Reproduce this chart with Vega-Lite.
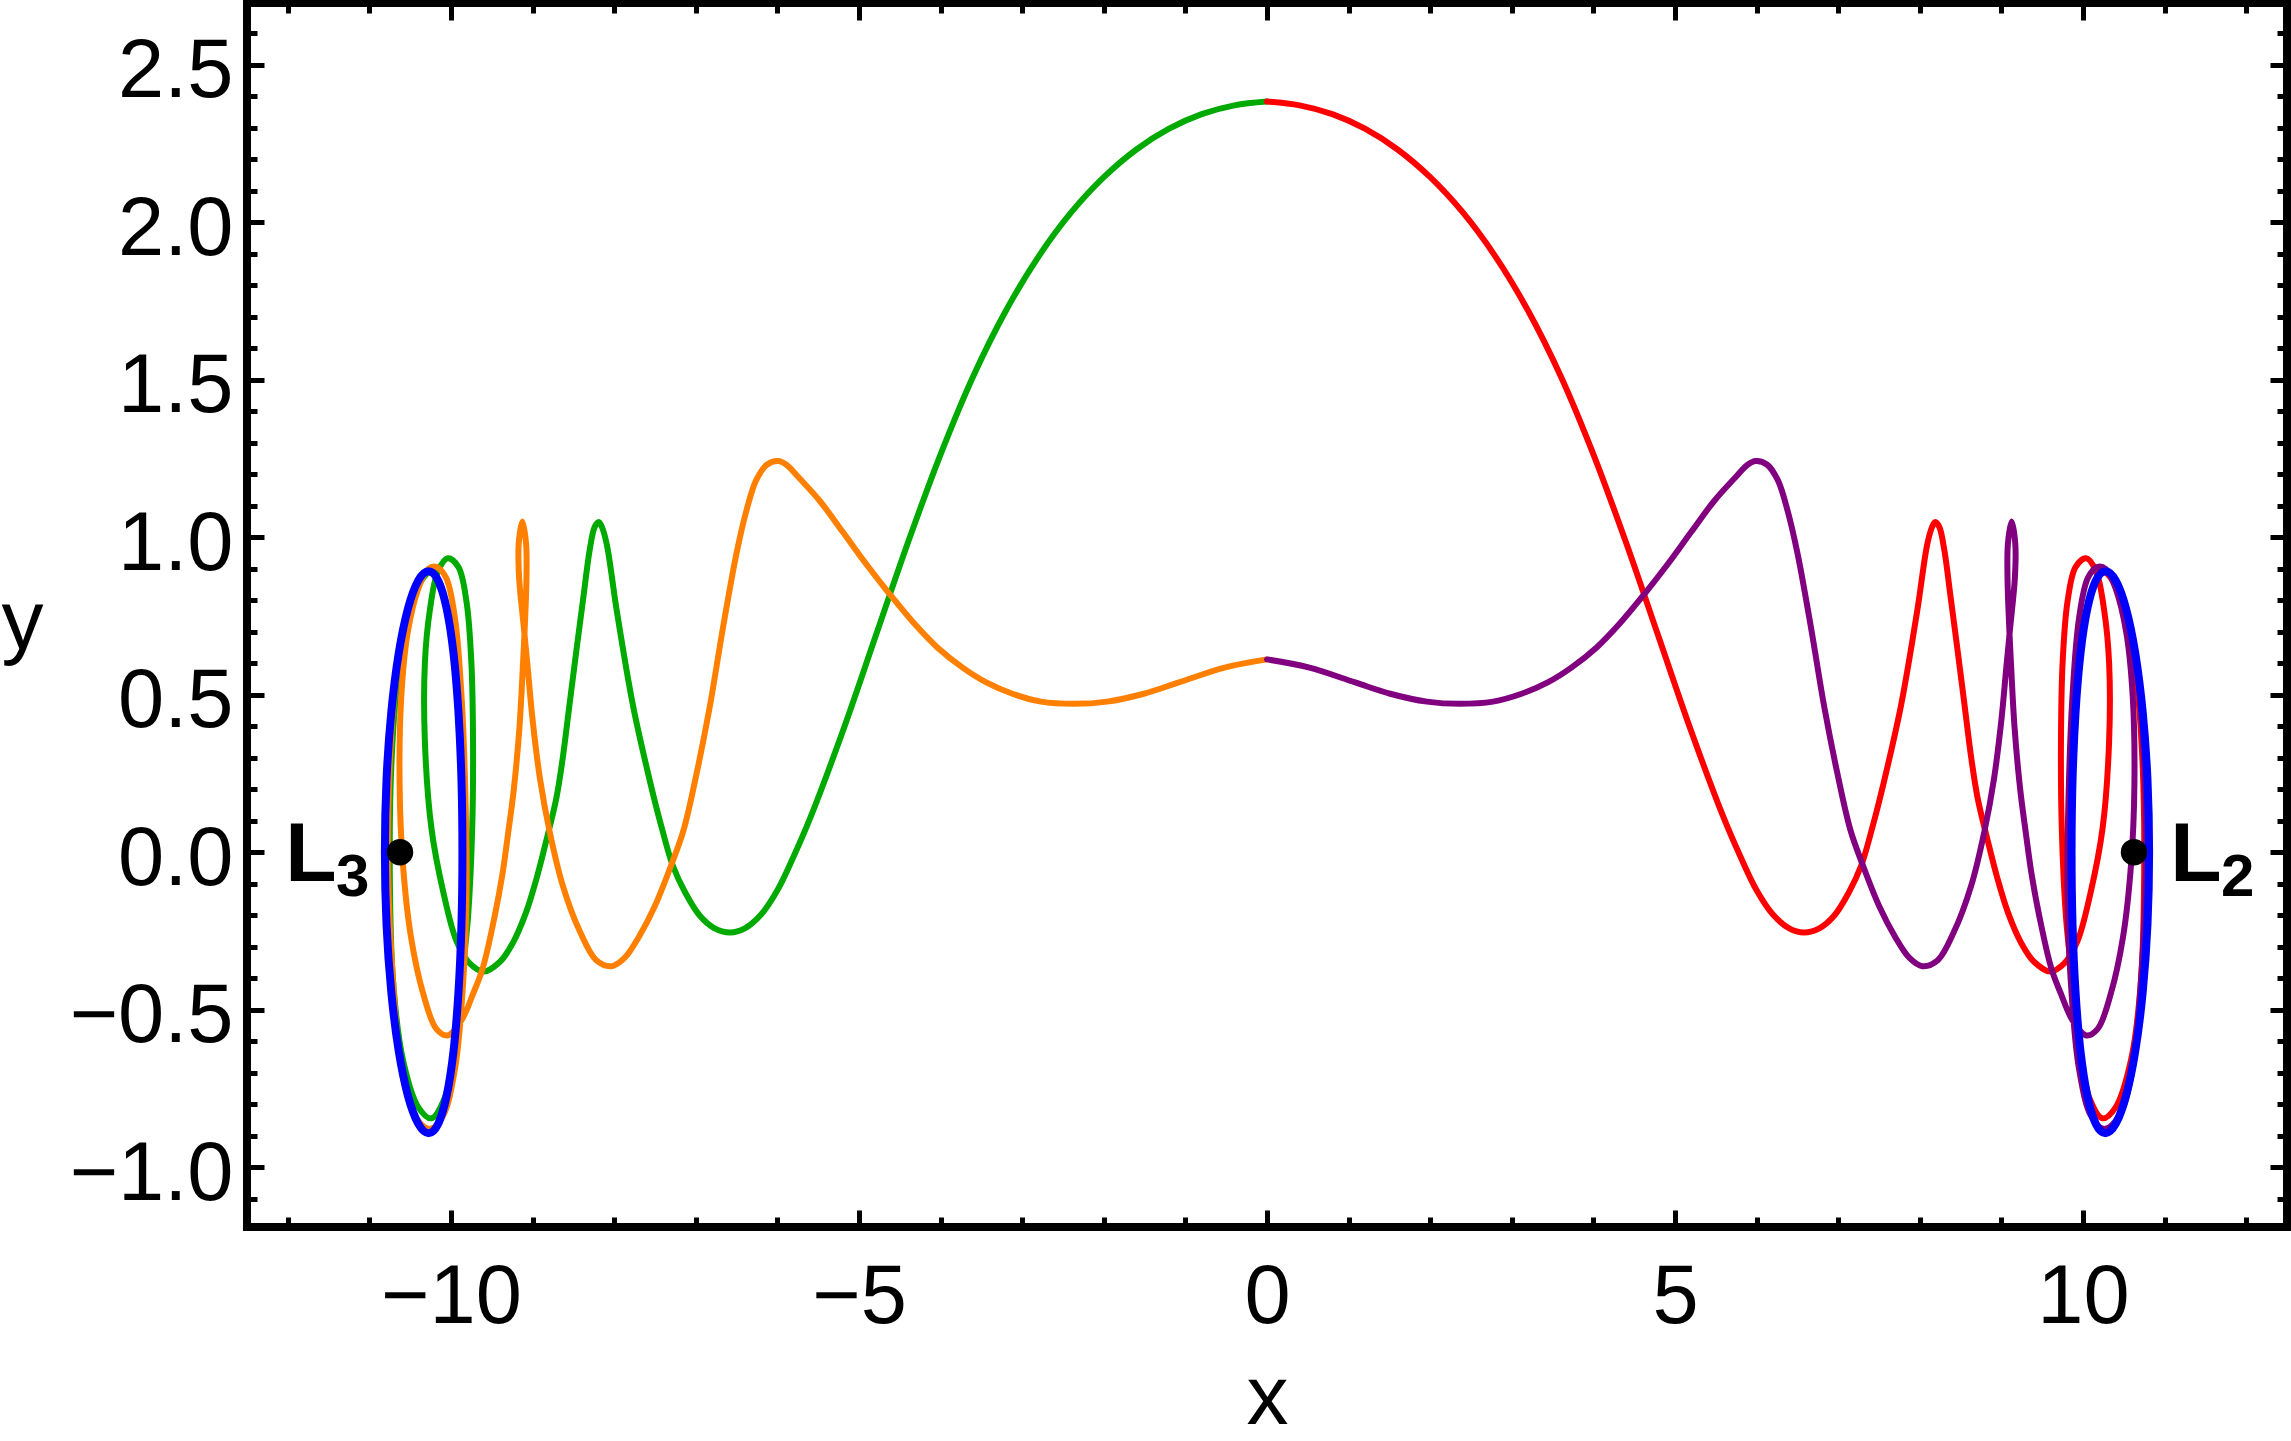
{
  "$schema": "https://vega.github.io/schema/vega-lite/v6.json",
  "autosize": {"type": "none"},
  "padding": {"left": 247, "top": 3, "right": 4, "bottom": 214},
  "width": 2040,
  "height": 1224,
  "background": "white",
  "datasets": {
    "curves": [
      {"c":"green","x":0,"y":2.383},{"c":"green","x":-0.4,"y":2.371},{"c":"green","x":-0.8,"y":2.343},{"c":"green","x":-1.2,"y":2.297},{"c":"green","x":-1.6,"y":2.231},{"c":"green","x":-2.0,"y":2.143},{"c":"green","x":-2.4,"y":2.031},{"c":"green","x":-2.8,"y":1.891},{"c":"green","x":-3.2,"y":1.719},{"c":"green","x":-3.6,"y":1.511},{"c":"green","x":-4.0,"y":1.263},{"c":"green","x":-4.4,"y":0.983},{"c":"green","x":-4.8,"y":0.683},{"c":"green","x":-5.2,"y":0.383},{"c":"green","x":-5.6,"y":0.107},{"c":"green","x":-5.8,"y":-0.013},{"c":"green","x":-6.0,"y":-0.121},{"c":"green","x":-6.2,"y":-0.198},{"c":"green","x":-6.4,"y":-0.242},{"c":"green","x":-6.58,"y":-0.255},{"c":"green","x":-6.78,"y":-0.24},{"c":"green","x":-6.95,"y":-0.202},{"c":"green","x":-7.13,"y":-0.128},{"c":"green","x":-7.28,"y":-0.044},{"c":"green","x":-7.42,"y":0.08},{"c":"green","x":-7.56,"y":0.223},{"c":"green","x":-7.77,"y":0.466},{"c":"green","x":-7.97,"y":0.769},{"c":"green","x":-8.09,"y":0.976},{"c":"green","x":-8.15,"y":1.032},{"c":"green","x":-8.19,"y":1.048},{"c":"green","x":-8.24,"y":1.032},{"c":"green","x":-8.3,"y":0.96},{"c":"green","x":-8.38,"y":0.805},{"c":"green","x":-8.46,"y":0.647},{"c":"green","x":-8.55,"y":0.464},{"c":"green","x":-8.63,"y":0.3},{"c":"green","x":-8.71,"y":0.17},{"c":"green","x":-8.83,"y":0.039},{"c":"green","x":-8.95,"y":-0.082},{"c":"green","x":-9.08,"y":-0.191},{"c":"green","x":-9.24,"y":-0.287},{"c":"green","x":-9.4,"y":-0.348},{"c":"green","x":-9.6,"y":-0.379},{"c":"green","x":-9.77,"y":-0.353},{"c":"green","x":-9.93,"y":-0.284},{"c":"green","x":-10.09,"y":-0.132},{"c":"green","x":-10.24,"y":0.076},{"c":"green","x":-10.32,"y":0.352},{"c":"green","x":-10.32,"y":0.601},{"c":"green","x":-10.26,"y":0.767},{"c":"green","x":-10.16,"y":0.892},{"c":"green","x":-10.04,"y":0.933},{"c":"green","x":-9.91,"y":0.906},{"c":"green","x":-9.81,"y":0.795},{"c":"green","x":-9.75,"y":0.601},{"c":"green","x":-9.73,"y":0.352},{"c":"green","x":-9.74,"y":0.076},{"c":"green","x":-9.79,"y":-0.201},{"c":"green","x":-9.87,"y":-0.409},{"c":"green","x":-9.95,"y":-0.616},{"c":"green","x":-10.08,"y":-0.782},{"c":"green","x":-10.24,"y":-0.845},{"c":"green","x":-10.4,"y":-0.81},{"c":"green","x":-10.59,"y":-0.658},{"c":"green","x":-10.71,"y":-0.409},{"c":"green","x":-10.75,"y":-0.063},{"c":"green","x":-10.73,"y":0.283},{"c":"green","x":-10.65,"y":0.56},{"c":"green","x":-10.51,"y":0.767},{"c":"green","x":-10.34,"y":0.871},{"c":"green","x":-10.22,"y":0.899},

      {"c":"red","x":0,"y":2.383},{"c":"red","x":0.4,"y":2.371},{"c":"red","x":0.8,"y":2.343},{"c":"red","x":1.2,"y":2.297},{"c":"red","x":1.6,"y":2.231},{"c":"red","x":2.0,"y":2.143},{"c":"red","x":2.4,"y":2.031},{"c":"red","x":2.8,"y":1.891},{"c":"red","x":3.2,"y":1.719},{"c":"red","x":3.6,"y":1.511},{"c":"red","x":4.0,"y":1.263},{"c":"red","x":4.4,"y":0.983},{"c":"red","x":4.8,"y":0.683},{"c":"red","x":5.2,"y":0.383},{"c":"red","x":5.6,"y":0.107},{"c":"red","x":5.8,"y":-0.013},{"c":"red","x":6.0,"y":-0.121},{"c":"red","x":6.2,"y":-0.198},{"c":"red","x":6.4,"y":-0.242},{"c":"red","x":6.58,"y":-0.255},{"c":"red","x":6.78,"y":-0.24},{"c":"red","x":6.95,"y":-0.202},{"c":"red","x":7.13,"y":-0.128},{"c":"red","x":7.28,"y":-0.044},{"c":"red","x":7.42,"y":0.08},{"c":"red","x":7.56,"y":0.223},{"c":"red","x":7.77,"y":0.466},{"c":"red","x":7.97,"y":0.769},{"c":"red","x":8.09,"y":0.976},{"c":"red","x":8.15,"y":1.032},{"c":"red","x":8.19,"y":1.048},{"c":"red","x":8.24,"y":1.032},{"c":"red","x":8.3,"y":0.96},{"c":"red","x":8.38,"y":0.805},{"c":"red","x":8.46,"y":0.647},{"c":"red","x":8.55,"y":0.464},{"c":"red","x":8.63,"y":0.3},{"c":"red","x":8.71,"y":0.17},{"c":"red","x":8.83,"y":0.039},{"c":"red","x":8.95,"y":-0.082},{"c":"red","x":9.08,"y":-0.191},{"c":"red","x":9.24,"y":-0.287},{"c":"red","x":9.4,"y":-0.348},{"c":"red","x":9.6,"y":-0.379},{"c":"red","x":9.77,"y":-0.353},{"c":"red","x":9.93,"y":-0.284},{"c":"red","x":10.09,"y":-0.132},{"c":"red","x":10.24,"y":0.076},{"c":"red","x":10.32,"y":0.352},{"c":"red","x":10.32,"y":0.601},{"c":"red","x":10.26,"y":0.767},{"c":"red","x":10.16,"y":0.892},{"c":"red","x":10.04,"y":0.933},{"c":"red","x":9.91,"y":0.906},{"c":"red","x":9.81,"y":0.795},{"c":"red","x":9.75,"y":0.601},{"c":"red","x":9.73,"y":0.352},{"c":"red","x":9.74,"y":0.076},{"c":"red","x":9.79,"y":-0.201},{"c":"red","x":9.87,"y":-0.409},{"c":"red","x":9.95,"y":-0.616},{"c":"red","x":10.08,"y":-0.782},{"c":"red","x":10.24,"y":-0.845},{"c":"red","x":10.4,"y":-0.81},{"c":"red","x":10.59,"y":-0.658},{"c":"red","x":10.71,"y":-0.409},{"c":"red","x":10.75,"y":-0.063},{"c":"red","x":10.73,"y":0.283},{"c":"red","x":10.65,"y":0.56},{"c":"red","x":10.51,"y":0.767},{"c":"red","x":10.34,"y":0.871},{"c":"red","x":10.22,"y":0.899},

      {"c":"orange","x":0,"y":0.612},{"c":"orange","x":-0.52,"y":0.586},{"c":"orange","x":-1.08,"y":0.539},{"c":"orange","x":-1.51,"y":0.503},{"c":"orange","x":-1.96,"y":0.478},{"c":"orange","x":-2.36,"y":0.471},{"c":"orange","x":-2.77,"y":0.478},{"c":"orange","x":-3.12,"y":0.503},{"c":"orange","x":-3.44,"y":0.539},{"c":"orange","x":-3.73,"y":0.586},{"c":"orange","x":-4.04,"y":0.65},{"c":"orange","x":-4.32,"y":0.725},{"c":"orange","x":-4.62,"y":0.818},{"c":"orange","x":-4.91,"y":0.914},{"c":"orange","x":-5.2,"y":1.017},{"c":"orange","x":-5.48,"y":1.115},{"c":"orange","x":-5.73,"y":1.187},{"c":"orange","x":-5.89,"y":1.23},{"c":"orange","x":-5.99,"y":1.242},{"c":"orange","x":-6.13,"y":1.23},{"c":"orange","x":-6.26,"y":1.181},{"c":"orange","x":-6.38,"y":1.084},{"c":"orange","x":-6.5,"y":0.95},{"c":"orange","x":-6.67,"y":0.708},{"c":"orange","x":-6.83,"y":0.46},{"c":"orange","x":-6.99,"y":0.25},{"c":"orange","x":-7.15,"y":0.07},{"c":"orange","x":-7.3,"y":-0.04},{"c":"orange","x":-7.5,"y":-0.17},{"c":"orange","x":-7.7,"y":-0.27},{"c":"orange","x":-7.87,"y":-0.335},{"c":"orange","x":-8.03,"y":-0.362},{"c":"orange","x":-8.22,"y":-0.343},{"c":"orange","x":-8.42,"y":-0.252},{"c":"orange","x":-8.63,"y":-0.106},{"c":"orange","x":-8.79,"y":0.064},{"c":"orange","x":-8.91,"y":0.234},{"c":"orange","x":-9.0,"y":0.42},{"c":"orange","x":-9.06,"y":0.586},{"c":"orange","x":-9.11,"y":0.72},{"c":"orange","x":-9.165,"y":0.87},{"c":"orange","x":-9.17,"y":0.98},{"c":"orange","x":-9.125,"y":1.05},{"c":"orange","x":-9.08,"y":0.98},{"c":"orange","x":-9.075,"y":0.87},{"c":"orange","x":-9.095,"y":0.72},{"c":"orange","x":-9.12,"y":0.586},{"c":"orange","x":-9.16,"y":0.4},{"c":"orange","x":-9.23,"y":0.2},{"c":"orange","x":-9.3,"y":0.06},{"c":"orange","x":-9.37,"y":-0.07},{"c":"orange","x":-9.47,"y":-0.21},{"c":"orange","x":-9.61,"y":-0.367},{"c":"orange","x":-9.73,"y":-0.45},{"c":"orange","x":-9.87,"y":-0.533},{"c":"orange","x":-10.04,"y":-0.582},{"c":"orange","x":-10.18,"y":-0.561},{"c":"orange","x":-10.34,"y":-0.45},{"c":"orange","x":-10.49,"y":-0.27},{"c":"orange","x":-10.59,"y":-0.035},{"c":"orange","x":-10.63,"y":0.215},{"c":"orange","x":-10.61,"y":0.491},{"c":"orange","x":-10.53,"y":0.698},{"c":"orange","x":-10.4,"y":0.837},{"c":"orange","x":-10.28,"y":0.899},{"c":"orange","x":-10.18,"y":0.906},{"c":"orange","x":-10.06,"y":0.871},{"c":"orange","x":-9.95,"y":0.74},{"c":"orange","x":-9.87,"y":0.491},{"c":"orange","x":-9.82,"y":0.145},{"c":"orange","x":-9.81,"y":-0.132},{"c":"orange","x":-9.85,"y":-0.409},{"c":"orange","x":-9.95,"y":-0.686},{"c":"orange","x":-10.1,"y":-0.838},{"c":"orange","x":-10.26,"y":-0.879},{"c":"orange","x":-10.44,"y":-0.838},{"c":"orange","x":-10.61,"y":-0.686},{"c":"orange","x":-10.71,"y":-0.409},{"c":"orange","x":-10.77,"y":-0.063},{"c":"orange","x":-10.75,"y":0.283},{"c":"orange","x":-10.67,"y":0.56},{"c":"orange","x":-10.55,"y":0.754},

      {"c":"purple","x":0,"y":0.612},{"c":"purple","x":0.52,"y":0.586},{"c":"purple","x":1.08,"y":0.539},{"c":"purple","x":1.51,"y":0.503},{"c":"purple","x":1.96,"y":0.478},{"c":"purple","x":2.36,"y":0.471},{"c":"purple","x":2.77,"y":0.478},{"c":"purple","x":3.12,"y":0.503},{"c":"purple","x":3.44,"y":0.539},{"c":"purple","x":3.73,"y":0.586},{"c":"purple","x":4.04,"y":0.65},{"c":"purple","x":4.32,"y":0.725},{"c":"purple","x":4.62,"y":0.818},{"c":"purple","x":4.91,"y":0.914},{"c":"purple","x":5.2,"y":1.017},{"c":"purple","x":5.48,"y":1.115},{"c":"purple","x":5.73,"y":1.187},{"c":"purple","x":5.89,"y":1.23},{"c":"purple","x":5.99,"y":1.242},{"c":"purple","x":6.13,"y":1.23},{"c":"purple","x":6.26,"y":1.181},{"c":"purple","x":6.38,"y":1.084},{"c":"purple","x":6.5,"y":0.95},{"c":"purple","x":6.67,"y":0.708},{"c":"purple","x":6.83,"y":0.46},{"c":"purple","x":6.99,"y":0.25},{"c":"purple","x":7.15,"y":0.07},{"c":"purple","x":7.3,"y":-0.04},{"c":"purple","x":7.5,"y":-0.17},{"c":"purple","x":7.7,"y":-0.27},{"c":"purple","x":7.87,"y":-0.335},{"c":"purple","x":8.03,"y":-0.362},{"c":"purple","x":8.22,"y":-0.343},{"c":"purple","x":8.42,"y":-0.252},{"c":"purple","x":8.63,"y":-0.106},{"c":"purple","x":8.79,"y":0.064},{"c":"purple","x":8.91,"y":0.234},{"c":"purple","x":9.0,"y":0.42},{"c":"purple","x":9.06,"y":0.586},{"c":"purple","x":9.11,"y":0.72},{"c":"purple","x":9.165,"y":0.87},{"c":"purple","x":9.17,"y":0.98},{"c":"purple","x":9.125,"y":1.05},{"c":"purple","x":9.08,"y":0.98},{"c":"purple","x":9.075,"y":0.87},{"c":"purple","x":9.095,"y":0.72},{"c":"purple","x":9.12,"y":0.586},{"c":"purple","x":9.16,"y":0.4},{"c":"purple","x":9.23,"y":0.2},{"c":"purple","x":9.3,"y":0.06},{"c":"purple","x":9.37,"y":-0.07},{"c":"purple","x":9.47,"y":-0.21},{"c":"purple","x":9.61,"y":-0.367},{"c":"purple","x":9.73,"y":-0.45},{"c":"purple","x":9.87,"y":-0.533},{"c":"purple","x":10.04,"y":-0.582},{"c":"purple","x":10.18,"y":-0.561},{"c":"purple","x":10.34,"y":-0.45},{"c":"purple","x":10.49,"y":-0.27},{"c":"purple","x":10.59,"y":-0.035},{"c":"purple","x":10.63,"y":0.215},{"c":"purple","x":10.61,"y":0.491},{"c":"purple","x":10.53,"y":0.698},{"c":"purple","x":10.4,"y":0.837},{"c":"purple","x":10.28,"y":0.899},{"c":"purple","x":10.18,"y":0.906},{"c":"purple","x":10.06,"y":0.871},{"c":"purple","x":9.95,"y":0.74},{"c":"purple","x":9.87,"y":0.491},{"c":"purple","x":9.82,"y":0.145},{"c":"purple","x":9.81,"y":-0.132},{"c":"purple","x":9.85,"y":-0.409},{"c":"purple","x":9.95,"y":-0.686},{"c":"purple","x":10.1,"y":-0.838},{"c":"purple","x":10.26,"y":-0.879},{"c":"purple","x":10.44,"y":-0.838},{"c":"purple","x":10.61,"y":-0.686},{"c":"purple","x":10.71,"y":-0.409},{"c":"purple","x":10.77,"y":-0.063},{"c":"purple","x":10.75,"y":0.283},{"c":"purple","x":10.67,"y":0.56},{"c":"purple","x":10.55,"y":0.754},

      {"c":"blueL","x":-9.86,"y":0},{"c":"blueL","x":-9.872,"y":0.231},{"c":"blueL","x":-9.909,"y":0.446},{"c":"blueL","x":-9.969,"y":0.631},{"c":"blueL","x":-10.053,"y":0.773},{"c":"blueL","x":-10.156,"y":0.862},{"c":"blueL","x":-10.275,"y":0.892},{"c":"blueL","x":-10.402,"y":0.862},{"c":"blueL","x":-10.528,"y":0.773},{"c":"blueL","x":-10.641,"y":0.631},{"c":"blueL","x":-10.731,"y":0.446},{"c":"blueL","x":-10.79,"y":0.231},{"c":"blueL","x":-10.81,"y":0},{"c":"blueL","x":-10.79,"y":-0.231},{"c":"blueL","x":-10.731,"y":-0.446},{"c":"blueL","x":-10.641,"y":-0.631},{"c":"blueL","x":-10.528,"y":-0.773},{"c":"blueL","x":-10.402,"y":-0.862},{"c":"blueL","x":-10.275,"y":-0.892},{"c":"blueL","x":-10.156,"y":-0.862},{"c":"blueL","x":-10.053,"y":-0.773},{"c":"blueL","x":-9.969,"y":-0.631},{"c":"blueL","x":-9.909,"y":-0.446},{"c":"blueL","x":-9.872,"y":-0.231},

      {"c":"blueR","x":9.86,"y":0},{"c":"blueR","x":9.872,"y":0.231},{"c":"blueR","x":9.909,"y":0.446},{"c":"blueR","x":9.969,"y":0.631},{"c":"blueR","x":10.053,"y":0.773},{"c":"blueR","x":10.156,"y":0.862},{"c":"blueR","x":10.275,"y":0.892},{"c":"blueR","x":10.402,"y":0.862},{"c":"blueR","x":10.528,"y":0.773},{"c":"blueR","x":10.641,"y":0.631},{"c":"blueR","x":10.731,"y":0.446},{"c":"blueR","x":10.79,"y":0.231},{"c":"blueR","x":10.81,"y":0},{"c":"blueR","x":10.79,"y":-0.231},{"c":"blueR","x":10.731,"y":-0.446},{"c":"blueR","x":10.641,"y":-0.631},{"c":"blueR","x":10.528,"y":-0.773},{"c":"blueR","x":10.402,"y":-0.862},{"c":"blueR","x":10.275,"y":-0.892},{"c":"blueR","x":10.156,"y":-0.862},{"c":"blueR","x":10.053,"y":-0.773},{"c":"blueR","x":9.969,"y":-0.631},{"c":"blueR","x":9.909,"y":-0.446},{"c":"blueR","x":9.872,"y":-0.231}
    ],
    "points": [
      {"name":"L3","x":-10.625,"y":0},
      {"name":"L2","x":10.625,"y":0}
    ],
    "labels": [
      {"k":"main","t":"L","x":-12.03,"y":-0.093},
      {"k":"sub","t":"3","x":-11.41,"y":-0.14},
      {"k":"main","t":"L","x":11.07,"y":-0.093},
      {"k":"sub","t":"2","x":11.69,"y":-0.14}
    ]
  },
  "layer": [
    {
      "data": {"name": "curves"},
      "transform": [{"filter": "datum.c == 'green'"}],
      "mark": {"type": "line", "interpolate": "catmull-rom", "strokeWidth": 6, "color": "#00AA00", "strokeCap": "round", "strokeJoin": "round"},
      "encoding": {
        "x": {"field": "x", "type": "quantitative", "scale": {"domain": [-12.5, 12.5], "nice": false, "zero": false},
              "axis": {"orient": "bottom", "values": [-10, -5, 0, 5, 10], "tickSize": -17, "labelPadding": 112, "labelBaseline": "alphabetic", "labelAlign": "center", "title": "x", "titleY": 196, "titleBaseline": "alphabetic"}},
        "y": {"field": "y", "type": "quantitative", "scale": {"domain": [-1.19, 2.696], "nice": false, "zero": false},
              "axis": {"orient": "left", "values": [-1, -0.5, 0, 0.5, 1, 1.5, 2, 2.5], "format": ".1f", "tickSize": -17, "labelPadding": 31, "labelOffset": 7, "labelBaseline": "middle", "title": "y", "titleAngle": 0, "titleAlign": "left", "titleBaseline": "alphabetic", "titleX": -246, "titleY": 645}},
        "order": {"value": null}
      }
    },
    {
      "data": {"name": "curves"},
      "transform": [{"filter": "datum.c == 'red'"}],
      "mark": {"type": "line", "interpolate": "catmull-rom", "strokeWidth": 6, "color": "#FF0000", "strokeCap": "round", "strokeJoin": "round"},
      "encoding": {
        "x": {"field": "x", "type": "quantitative", "scale": {"domain": [-12.5, 12.5], "nice": false, "zero": false},
              "axis": {"orient": "bottom", "values": [-12,-11,-10,-9,-8,-7,-6,-5,-4,-3,-2,-1,0,1,2,3,4,5,6,7,8,9,10,11,12], "tickSize": -10, "labels": false, "title": null}},
        "y": {"field": "y", "type": "quantitative", "scale": {"domain": [-1.19, 2.696], "nice": false, "zero": false},
              "axis": {"orient": "left", "values": [-1.1,-1.0,-0.9,-0.8,-0.7,-0.6,-0.5,-0.4,-0.3,-0.2,-0.1,0,0.1,0.2,0.3,0.4,0.5,0.6,0.7,0.8,0.9,1.0,1.1,1.2,1.3,1.4,1.5,1.6,1.7,1.8,1.9,2.0,2.1,2.2,2.3,2.4,2.5,2.6], "tickSize": -10, "labels": false, "title": null}},
        "order": {"value": null}
      }
    },
    {
      "data": {"name": "curves"},
      "transform": [{"filter": "datum.c == 'orange'"}],
      "mark": {"type": "line", "interpolate": "catmull-rom", "strokeWidth": 6, "color": "#FF8000", "strokeCap": "round", "strokeJoin": "round"},
      "encoding": {
        "x": {"field": "x", "type": "quantitative", "scale": {"domain": [-12.5, 12.5], "nice": false, "zero": false},
              "axis": {"orient": "top", "values": [-10, -5, 0, 5, 10], "tickSize": -17, "labels": false, "title": null}},
        "y": {"field": "y", "type": "quantitative", "scale": {"domain": [-1.19, 2.696], "nice": false, "zero": false},
              "axis": {"orient": "right", "values": [-1, -0.5, 0, 0.5, 1, 1.5, 2, 2.5], "tickSize": -17, "labels": false, "title": null}},
        "order": {"value": null}
      }
    },
    {
      "data": {"name": "curves"},
      "transform": [{"filter": "datum.c == 'purple'"}],
      "mark": {"type": "line", "interpolate": "catmull-rom", "strokeWidth": 6, "color": "#800080", "strokeCap": "round", "strokeJoin": "round"},
      "encoding": {
        "x": {"field": "x", "type": "quantitative", "scale": {"domain": [-12.5, 12.5], "nice": false, "zero": false},
              "axis": {"orient": "top", "values": [-12,-11,-10,-9,-8,-7,-6,-5,-4,-3,-2,-1,0,1,2,3,4,5,6,7,8,9,10,11,12], "tickSize": -10, "labels": false, "title": null}},
        "y": {"field": "y", "type": "quantitative", "scale": {"domain": [-1.19, 2.696], "nice": false, "zero": false},
              "axis": {"orient": "right", "values": [-1.1,-1.0,-0.9,-0.8,-0.7,-0.6,-0.5,-0.4,-0.3,-0.2,-0.1,0,0.1,0.2,0.3,0.4,0.5,0.6,0.7,0.8,0.9,1.0,1.1,1.2,1.3,1.4,1.5,1.6,1.7,1.8,1.9,2.0,2.1,2.2,2.3,2.4,2.5,2.6], "tickSize": -10, "labels": false, "title": null}},
        "order": {"value": null}
      }
    },
    {
      "data": {"name": "curves"},
      "transform": [{"filter": "datum.c == 'blueL' || datum.c == 'blueR'"}],
      "mark": {"type": "line", "interpolate": "cardinal-closed", "strokeWidth": 8, "color": "#0000FF", "strokeCap": "round", "strokeJoin": "round"},
      "encoding": {
        "x": {"field": "x", "type": "quantitative", "scale": {"domain": [-12.5, 12.5], "nice": false, "zero": false}, "axis": null},
        "y": {"field": "y", "type": "quantitative", "scale": {"domain": [-1.19, 2.696], "nice": false, "zero": false}, "axis": null},
        "detail": {"field": "c", "type": "nominal"},
        "order": {"value": null}
      }
    },
    {
      "data": {"name": "points"},
      "mark": {"type": "circle", "size": 700, "color": "black", "opacity": 1},
      "encoding": {
        "x": {"field": "x", "type": "quantitative", "axis": null},
        "y": {"field": "y", "type": "quantitative", "axis": null}
      }
    },
    {
      "data": {"name": "labels"},
      "transform": [{"filter": "datum.k == 'main'"}],
      "mark": {"type": "text", "font": "Liberation Sans", "fontWeight": "bold", "fontSize": 84, "align": "left", "baseline": "alphabetic", "color": "black"},
      "encoding": {
        "x": {"field": "x", "type": "quantitative", "axis": null},
        "y": {"field": "y", "type": "quantitative", "axis": null},
        "text": {"field": "t"}
      }
    },
    {
      "data": {"name": "labels"},
      "transform": [{"filter": "datum.k == 'sub'"}],
      "mark": {"type": "text", "font": "Liberation Sans", "fontWeight": "bold", "fontSize": 60, "align": "left", "baseline": "alphabetic", "color": "black"},
      "encoding": {
        "x": {"field": "x", "type": "quantitative", "axis": null},
        "y": {"field": "y", "type": "quantitative", "axis": null},
        "text": {"field": "t"}
      }
    }
  ],
  "resolve": {"axis": {"x": "independent", "y": "independent"}},
  "config": {
    "view": {"stroke": "black", "strokeWidth": 8},
    "axis": {"domain": false, "grid": false, "ticks": true, "tickColor": "black", "tickWidth": 5, "labelFont": "Liberation Sans", "labelFontSize": 83, "labelColor": "black", "labelOverlap": false, "labelFlush": false, "titleFont": "Liberation Sans", "titleFontSize": 84, "titleFontWeight": "normal", "titleColor": "black", "titlePadding": 0}
  }
}
